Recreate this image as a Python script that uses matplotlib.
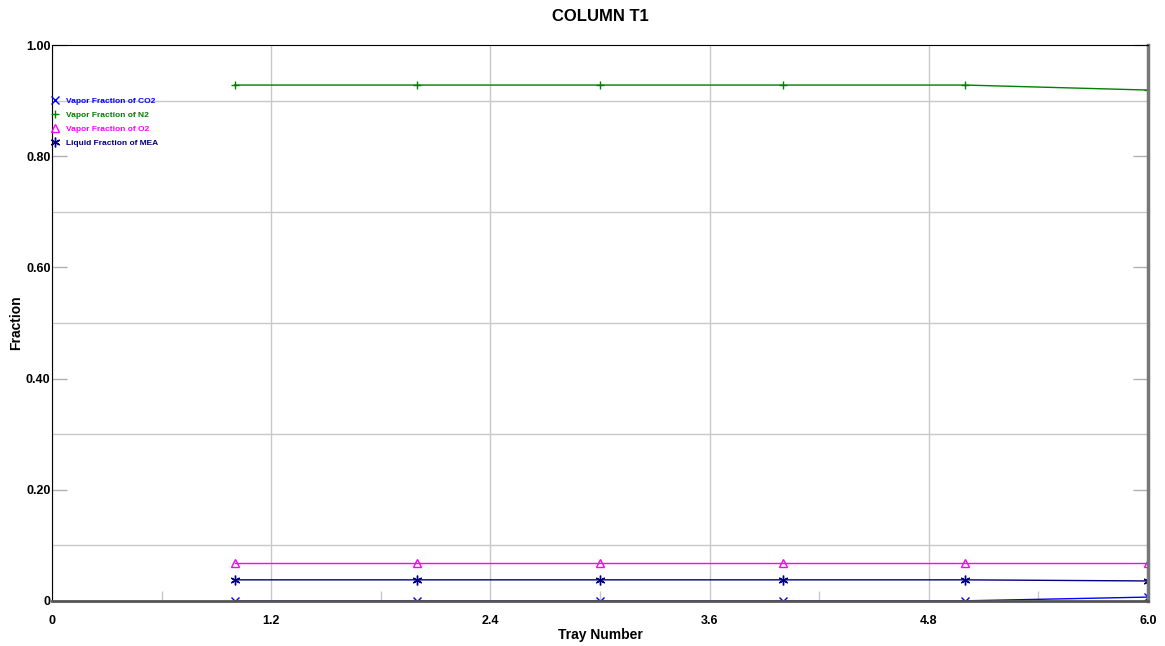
import matplotlib.pyplot as plt
from matplotlib.ticker import FixedLocator
import numpy as np

plt.rcParams['font.family'] = ['Liberation Sans', 'DejaVu Sans']

trays = [1, 2, 3, 4, 5, 6]
co2_vap = [0.0003, 0.0003, 0.0003, 0.0003, 0.0003, 0.007]
n2_vap = [0.928, 0.928, 0.928, 0.928, 0.928, 0.919]
o2_vap = [0.068, 0.068, 0.068, 0.068, 0.068, 0.068]
mea_liq = [0.038, 0.038, 0.038, 0.038, 0.038, 0.036]

x_major = [0, 1.2, 2.4, 3.6, 4.8, 6.0]
x_labels = ["0", "1.2", "2.4", "3.6", "4.8", "6.0"]
x_minor = [0.6, 1.8, 3.0, 4.2, 5.4]
y_major = [0, 0.2, 0.4, 0.6, 0.8, 1.0]
y_labels = ["0", "0.20", "0.40", "0.60", "0.80", "1.00"]
y_minor = [0.1, 0.3, 0.5, 0.7, 0.9]

fig = plt.figure(figsize=(11.65, 6.46), dpi=100)
ax = fig.add_axes([0.0446, 0.0697, 0.9408, 0.8606])

ax.plot(trays, co2_vap, color='#0000ff', marker='x', ms=6, lw=1, label='Vapor Fraction of CO2')
ax.plot(trays, n2_vap, color='#008000', marker='+', ms=6, lw=1, label='Vapor Fraction of N2')
ax.plot(trays, o2_vap, color='#ff00ff', marker='^', ms=6, mfc='none', lw=1, label='Vapor Fraction of O2')
ax.plot(trays, mea_liq, color='#000080', marker=(6, 2, 0), ms=7, lw=1, label='Liquid Fraction of MEA')

ax.set_xlim(0, 6.0)
ax.set_ylim(0, 1.0)

ax.xaxis.set_major_locator(FixedLocator(x_major))
ax.set_xticklabels(x_labels)
ax.xaxis.set_minor_locator(FixedLocator(x_minor))
ax.yaxis.set_major_locator(FixedLocator(y_major))
ax.set_yticklabels(y_labels)
ax.yaxis.set_minor_locator(FixedLocator(y_minor))

ax.grid(which='major', axis='x', color='#c8c8c8', lw=1)
ax.grid(which='minor', axis='y', color='#c8c8c8', lw=1)

ax.tick_params(axis='x', which='major', length=0, pad=10, labelsize=9)
ax.tick_params(axis='x', which='minor', direction='in', length=7, color='#c8c8c8', width=1)
ax.tick_params(axis='y', which='major', direction='in', length=11, color='#b0b0b0', width=1,
               left=True, right=True, pad=1, labelsize=9)
ax.tick_params(axis='y', which='minor', length=0)
for lab in ax.get_xticklabels() + ax.get_yticklabels():
    lab.set_fontweight('bold')

ax.spines['left'].set_color('black')
ax.spines['top'].set_color('black')
ax.spines['right'].set_color('#777777')
ax.spines['right'].set_linewidth(2.5)
ax.spines['bottom'].set_color('#555555')
ax.spines['bottom'].set_linewidth(2)

ax.set_title("COLUMN T1", fontsize=12, fontweight='bold', pad=17)
ax.set_xlabel("Tray Number", fontsize=10, fontweight='bold', labelpad=1)
ax.set_ylabel("Fraction", fontsize=10, fontweight='bold')
ax.yaxis.set_label_coords(-0.026, 0.5)

leg = ax.legend(loc='upper left', bbox_to_anchor=(-0.002, 0.906), frameon=False,
                fontsize=6, handlelength=1.2, handletextpad=0.8, labelspacing=0.75,
                borderaxespad=0, borderpad=0)
for h in leg.get_lines():
    h.set_linestyle('none')
for txt, c in zip(leg.get_texts(), ['#0000ff', '#008000', '#ff00ff', '#000080']):
    txt.set_color(c)
    txt.set_fontweight('bold')

fig.savefig("out.png", dpi=100)
